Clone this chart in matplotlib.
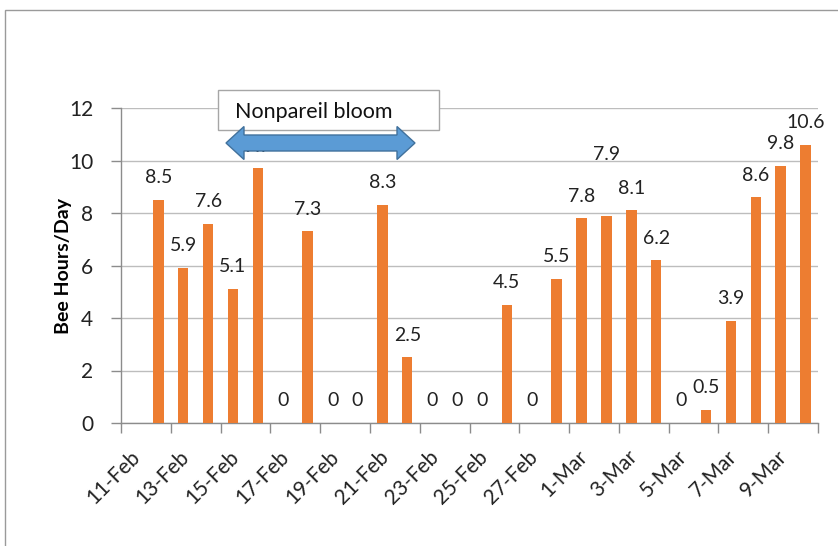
import matplotlib
matplotlib.use("Agg")
import matplotlib.pyplot as plt
from matplotlib.patches import Rectangle, Polygon
from matplotlib.transforms import IdentityTransform, ScaledTranslation
import numpy as np

plt.rcParams['font.family'] = ['Lato', 'DejaVu Sans']

dates = ["11-Feb", "12-Feb", "13-Feb", "14-Feb", "15-Feb", "16-Feb", "17-Feb",
         "18-Feb", "19-Feb", "20-Feb", "21-Feb", "22-Feb", "23-Feb", "24-Feb",
         "25-Feb", "26-Feb", "27-Feb", "28-Feb", "1-Mar", "2-Mar", "3-Mar",
         "4-Mar", "5-Mar", "6-Mar", "7-Mar", "8-Mar", "9-Mar", "10-Mar"]
bee_hours = [None, 8.5, 5.9, 7.6, 5.1, 9.7, 0, 7.3, 0, 0, 8.3, 2.5, 0, 0, 0,
             4.5, 0, 5.5, 7.8, 7.9, 8.1, 6.2, 0, 0.5, 3.9, 8.6, 9.8, 10.6]
y_ticks = [0, 2, 4, 6, 8, 10, 12]
annotation_text = "Nonpareil bloom"
y_label = "Bee Hours/Day"

W, H = 838, 546
fig = plt.figure(figsize=(W / 100, H / 100), dpi=100)
ax = fig.add_axes([121 / W, 1 - 423 / H, (818 - 121) / W, (423 - 108) / H])

x = np.arange(len(dates))
vals = np.array([np.nan if v is None else v for v in bee_hours], dtype=float)
bar_color = "#ED7D31"
ax.bar(x, np.nan_to_num(vals), width=0.42, color=bar_color, zorder=3)

ax.set_xlim(-0.5, len(dates) - 0.5)
ax.set_ylim(0, 12)
ax.set_yticks(y_ticks)
ax.set_yticklabels([str(t) for t in y_ticks], fontsize=15, color="#222222")
ax.grid(axis="y", color="#BDBDBD", linewidth=1, zorder=0)
ax.set_axisbelow(True)

# x tick labels every 2 categories
ax.set_xticks(x[::2])
ax.set_xticklabels(dates[::2], rotation=45, ha="right", rotation_mode="anchor",
                   fontsize=15, color="#222222")
ax.tick_params(axis="x", which="major", length=0, pad=17)
shift = ScaledTranslation(-4 / 100, 0, fig.dpi_scale_trans)
for lbl in ax.get_xticklabels():
    lbl.set_transform(lbl.get_transform() + shift)
ax.set_xticks(np.arange(-0.5, len(dates), 2), minor=True)
ax.tick_params(axis="x", which="minor", length=7, color="#8C8C8C", width=1)
ax.tick_params(axis="y", length=7, color="#8C8C8C", width=1, pad=13)

for s in ["top", "right"]:
    ax.spines[s].set_visible(False)
for s in ["left", "bottom"]:
    ax.spines[s].set_color("#8C8C8C")
    ax.spines[s].set_linewidth(1)

ax.set_ylabel(y_label, fontsize=14, fontweight="bold")
ax.yaxis.set_label_coords((72 - 121) / (818 - 121), 0.5)

# data labels
for i, v in enumerate(vals):
    if np.isnan(v):
        continue
    dy = 16
    if dates[i] == "2-Mar":
        dy = 44
    ax.annotate(f"{v:g}", (i, v), xytext=(0, dy), textcoords="offset points",
                ha="center", va="center", fontsize=14, color="#222222",
                zorder=4, annotation_clip=False)

# chart area border
fig.patches.append(Rectangle((5, -20), 900, H - 10 + 20, transform=IdentityTransform(),
                             fill=False, edgecolor="#9A9A9A", linewidth=1))

# annotation text box
fig.patches.append(Rectangle((218, H - 130), 439 - 218, 40, transform=IdentityTransform(),
                             facecolor="white", edgecolor="#A6A6A6", linewidth=1, zorder=5))
fig.text(235 / W, 1 - 112 / H, annotation_text, fontsize=15.5, ha="left", va="center",
         color="#111111", zorder=6)

# double-headed block arrow (pixel coords, image y downward)
xl, xr, yc = 226, 415, 143
head_len, head_h, shaft_h = 18, 16.5, 8
pts_img = [(xl, yc), (xl + head_len, yc - head_h), (xl + head_len, yc - shaft_h),
           (xr - head_len, yc - shaft_h), (xr - head_len, yc - head_h), (xr, yc),
           (xr - head_len, yc + head_h), (xr - head_len, yc + shaft_h),
           (xl + head_len, yc + shaft_h), (xl + head_len, yc + head_h)]
pts = [(px, H - py) for px, py in pts_img]
fig.patches.append(Polygon(pts, closed=True, transform=IdentityTransform(),
                           facecolor="#5B9BD5", edgecolor="#41719C", linewidth=1, zorder=7))

fig.savefig("out.png", dpi=100)
